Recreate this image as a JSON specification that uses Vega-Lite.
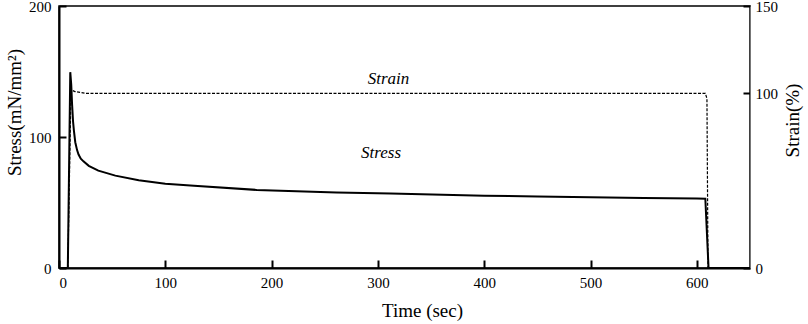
{
  "$schema": "https://vega.github.io/schema/vega-lite/v6.json",
  "width": 691,
  "height": 262,
  "autosize": "none",
  "padding": {"left": 59, "top": 6, "right": 58, "bottom": 56},
  "background": "white",
  "config": {
    "view": {"stroke": "black", "strokeWidth": 1.5},
    "font": "Liberation Serif",
    "text": {"font": "Liberation Serif"},
    "axis": {"grid": false, "labelFont": "Liberation Serif", "titleFont": "Liberation Serif", "labelColor": "black", "titleColor": "black", "labelFontSize": 15, "titleFontSize": 19, "titleFontWeight": "normal", "tickColor": "black", "tickWidth": 2, "domainColor": "black"}
  },
  "datasets": {
    "stress": [
      {"t": 0, "v": 0}, {"t": 8.3, "v": 0}, {"t": 10.6, "v": 149.5}, {"t": 11.5, "v": 140}, {"t": 12.3, "v": 125},
      {"t": 13.2, "v": 112}, {"t": 14, "v": 105}, {"t": 15.3, "v": 96}, {"t": 17, "v": 90}, {"t": 18.4, "v": 86.6},
      {"t": 20.5, "v": 83.5}, {"t": 23, "v": 81.4}, {"t": 28, "v": 78}, {"t": 37, "v": 74.3}, {"t": 53, "v": 70.5},
      {"t": 75, "v": 67}, {"t": 100, "v": 64.4}, {"t": 127, "v": 62.8}, {"t": 186, "v": 59.6}, {"t": 261, "v": 57.6},
      {"t": 312, "v": 56.8}, {"t": 400, "v": 55.2}, {"t": 450, "v": 54.6}, {"t": 500, "v": 54}, {"t": 550, "v": 53.5},
      {"t": 600, "v": 53}, {"t": 608, "v": 52.8}, {"t": 611, "v": 0}, {"t": 650, "v": 0}
    ],
    "strain": [
      {"t": 0, "v": 0}, {"t": 8.3, "v": 0}, {"t": 11.3, "v": 102}, {"t": 15, "v": 101}, {"t": 24.7, "v": 100},
      {"t": 608, "v": 100}, {"t": 609.5, "v": 97}, {"t": 610.5, "v": 0}, {"t": 650, "v": 0}
    ],
    "stressLabel": [{"t": 303, "v": 88, "label": "Stress"}],
    "strainLabel": [{"t": 310, "v": 108, "label": "Strain"}]
  },
  "layer": [
    {
      "layer": [
        {
          "data": {"name": "stress"},
          "mark": {"type": "line", "color": "black", "strokeWidth": 2},
          "encoding": {
            "x": {"field": "t", "type": "quantitative", "scale": {"domain": [0, 650], "nice": false}, "axis": {"title": "Time (sec)", "values": [0, 100, 200, 300, 400, 500, 600], "tickSize": -8, "labelPadding": 15, "domainWidth": 2, "titleX": 363, "titleY": 42, "titleBaseline": "middle", "labelFont": "Liberation Serif", "titleFont": "Liberation Serif", "labelFontSize": 15, "titleFontSize": 19, "titleFontWeight": "normal"}},
            "y": {"field": "v", "type": "quantitative", "scale": {"domain": [0, 200], "nice": false}, "axis": {"title": "Stress(mN/mm²)", "orient": "left", "values": [0, 100, 200], "tickSize": -7, "labelPadding": 15, "domainWidth": 2, "titleX": -45, "titleY": 106, "titleAngle": 270, "titleBaseline": "middle", "titleAlign": "center", "labelFont": "Liberation Serif", "titleFont": "Liberation Serif", "labelFontSize": 15, "titleFontSize": 19, "titleFontWeight": "normal"}}
          }
        },
        {
          "data": {"name": "stressLabel"},
          "mark": {"type": "text", "font": "Liberation Serif", "fontStyle": "italic", "fontSize": 17, "color": "black"},
          "encoding": {
            "x": {"field": "t", "type": "quantitative"},
            "y": {"field": "v", "type": "quantitative"},
            "text": {"field": "label"}
          }
        }
      ]
    },
    {
      "layer": [
        {
          "data": {"name": "strain"},
          "mark": {"type": "line", "color": "black", "strokeWidth": 1.2, "strokeDash": [3, 1.5]},
          "encoding": {
            "x": {"field": "t", "type": "quantitative"},
            "y": {"field": "v", "type": "quantitative", "scale": {"domain": [0, 150], "nice": false}, "axis": {"title": "Strain(%)", "orient": "right", "values": [0, 100, 150], "tickSize": -7, "labelPadding": 12, "domainColor": "#777777", "domainWidth": 1, "titleX": 42, "titleY": 114, "titleAngle": 270, "titleBaseline": "middle", "titleAlign": "center", "labelFont": "Liberation Serif", "titleFont": "Liberation Serif", "labelFontSize": 15, "titleFontSize": 19, "titleFontWeight": "normal"}}
          }
        },
        {
          "data": {"name": "strainLabel"},
          "mark": {"type": "text", "font": "Liberation Serif", "fontStyle": "italic", "fontSize": 17, "color": "black"},
          "encoding": {
            "x": {"field": "t", "type": "quantitative"},
            "y": {"field": "v", "type": "quantitative"},
            "text": {"field": "label"}
          }
        }
      ]
    }
  ],
  "resolve": {"scale": {"y": "independent"}}
}
